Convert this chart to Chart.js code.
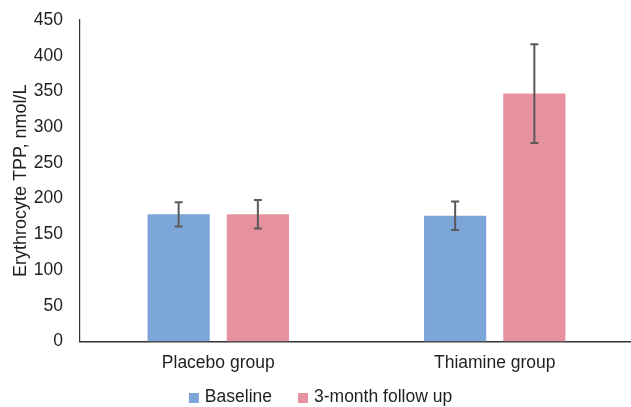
<!DOCTYPE html>
<html>
<head>
<meta charset="utf-8">
<script src="https://cdn.jsdelivr.net/npm/chart.js@4"></script>
<style>
  html, body { margin: 0; padding: 0; background: #fff; overflow: hidden; }
  #wrap { width: 633px; height: 407px; }
</style>
</head>
<body>
<div id="wrap"><canvas id="c"></canvas></div>
<script>
const categories = ['Placebo group', 'Thiamine group'];
const baseline = [178, 176];
const followUp = [178, 347];
const baselineErr = [17, 20];
const followUpErr = [20, 69];
const yTicks = [0, 50, 100, 150, 200, 250, 300, 350, 400, 450];

const FONT = '"Liberation Sans", Arial, sans-serif';

// draws the +/- whiskers on top of each bar
const errorBars = {
  id: 'errorBars',
  afterDatasetsDraw(chart) {
    const ctx = chart.ctx;
    const y = chart.scales.y;
    ctx.save();
    ctx.strokeStyle = '#595959';
    ctx.lineWidth = 2;
    chart.data.datasets.forEach((ds, i) => {
      const meta = chart.getDatasetMeta(i);
      meta.data.forEach((bar, j) => {
        const v = ds.data[j], e = ds.err[j];
        const top = y.getPixelForValue(v + e);
        const bot = y.getPixelForValue(v - e);
        const x = bar.x;
        ctx.beginPath();
        ctx.moveTo(x, top); ctx.lineTo(x, bot);
        ctx.moveTo(x - 4, top); ctx.lineTo(x + 4, top);
        ctx.moveTo(x - 4, bot); ctx.lineTo(x + 4, bot);
        ctx.stroke();
      });
    });
    ctx.restore();
  }
};

// excel-like legend under the axis, drawn by hand so it sits where it should
const bottomLegend = {
  id: 'bottomLegend',
  afterDraw(chart) {
    const ctx = chart.ctx;
    ctx.save();
    ctx.font = '17.5px ' + FONT;
    ctx.textBaseline = 'middle';
    const box = 10, gapText = 6, gapItem = 26, yMid = 397;
    const items = chart.data.datasets.map(ds => ({
      text: ds.label, color: ds.backgroundColor, w: ctx.measureText(ds.label).width
    }));
    let total = 0;
    items.forEach((it, i) => { total += box + gapText + it.w + (i ? gapItem : 0); });
    let x = chart.width / 2 + 4 - total / 2;
    items.forEach(it => {
      ctx.fillStyle = it.color;
      ctx.fillRect(x, yMid - box / 2 + 1, box, box);
      ctx.fillStyle = '#1f1f1f';
      ctx.fillText(it.text, x + box + gapText, yMid);
      x += box + gapText + it.w + gapItem;
    });
    ctx.restore();
  }
};

Chart.defaults.font.family = FONT;
Chart.defaults.font.size = 17.5;
Chart.defaults.color = '#1f1f1f';

new Chart(document.getElementById('c'), {
  type: 'bar',
  data: {
    labels: categories,
    datasets: [
      { label: 'Baseline', data: baseline, err: baselineErr, backgroundColor: 'rgb(124,166,216)' },
      { label: '3-month follow up', data: followUp, err: followUpErr, backgroundColor: 'rgb(230,145,158)' }
    ]
  },
  options: {
    responsive: true,
    maintainAspectRatio: false,
    animation: false,
    categoryPercentage: 0.573,
    barPercentage: 0.785,
    layout: { padding: { top: 20, right: 0, left: 0, bottom: 21.5 } },
    plugins: {
      tooltip: { enabled: false },
      legend: { display: false }
    },
    scales: {
      x: {
        grid: { display: false, drawTicks: false },
        border: { color: '#333', width: 1.5 },
        ticks: { padding: 11.5 }
      },
      y: {
        min: 0, max: 450,
        afterBuildTicks(axis) { axis.ticks = yTicks.map(v => ({ value: v })); },
        afterFit(axis) { axis.width = 80; axis.paddingTop = 0; axis.paddingBottom = 0; },
        grid: { display: false, drawTicks: false },
        border: { color: '#333', width: 1.2 },
        ticks: { padding: 17 },
        title: {
          display: true, text: 'Erythrocyte TPP, nmol/L',
          font: { size: 18 }, padding: { top: 10, bottom: 0 }
        }
      }
    }
  },
  plugins: [errorBars, bottomLegend]
});
</script>
</body>
</html>
